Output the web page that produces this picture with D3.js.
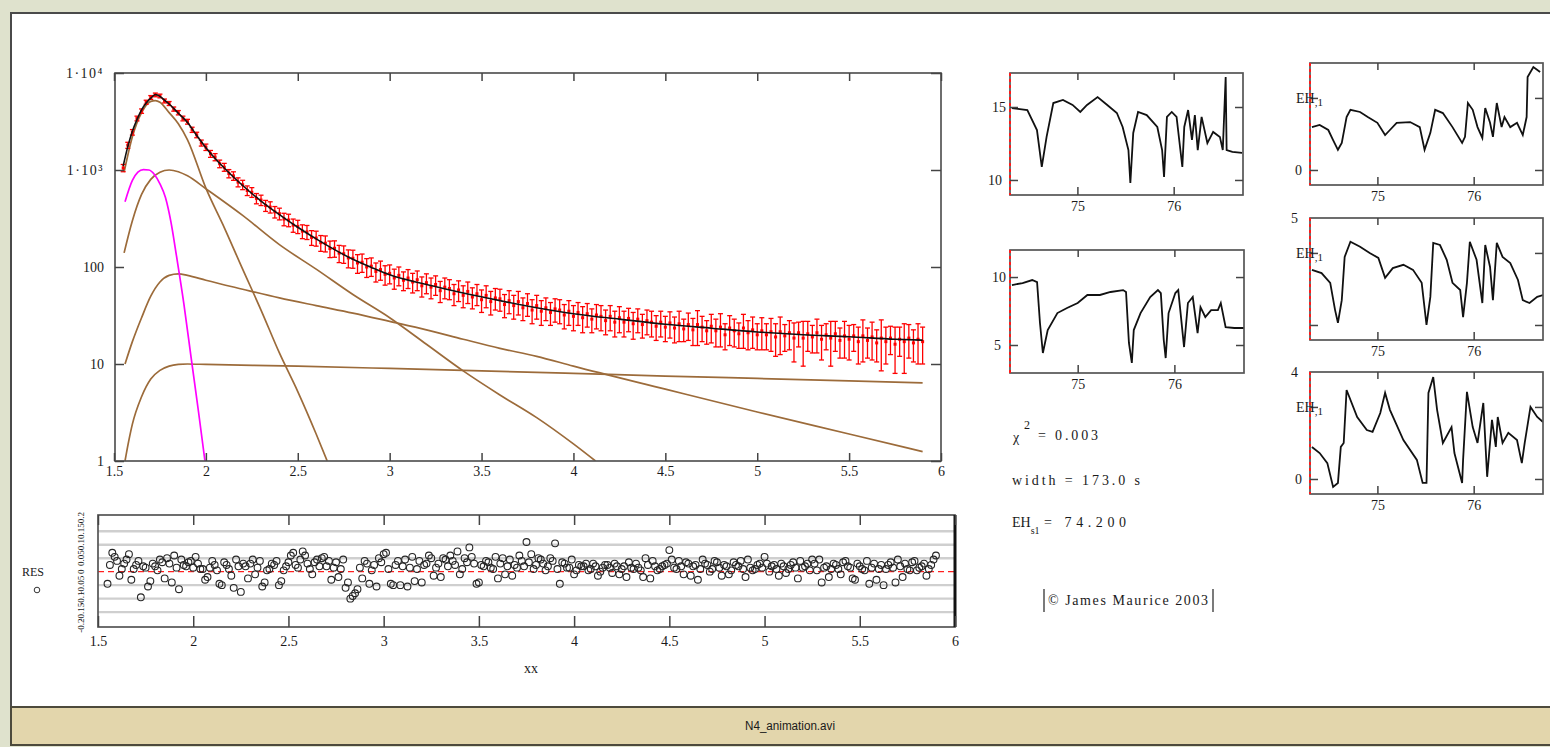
<!DOCTYPE html>
<html><head><meta charset="utf-8">
<script src="https://cdnjs.cloudflare.com/ajax/libs/d3/7.8.5/d3.min.js"></script>
<style>
body{margin:0;background:#dfe2cd;overflow:hidden}
svg{display:block}
text{font-family:"Liberation Serif","DejaVu Serif",serif;fill:#1a1a1a}
</style></head><body><svg id="c" width="1550" height="747"></svg>
<script>
// ---------- main spectrum data ----------
const xStart = 1.55, xStep = 0.025;
const dataY = [1050,1800,2450,3400,4050,5000,5600,5950,5800,5150,4850,4250,3900,3400,3150,2600,2300,1900,1720,1470,
1360,1160,1070,920,870,750,705,615,590,510,490,430,415,370,355,312,305,270,262,234,
230,202,199,178,176,155,156,139,137,124,123,110,112,100,102,90,94,84,86,77,
82,73,77,70,74,64,69,62,66,57,62,60,53,58,51,56,49,53,46,51,
44,48,47,41,45,40,44,38,42,36,40,35,38,34,37,36,32,35,31,34,
30,33,29,32,31,28,31,27,30,27,29.5,26,29,25.5,28,27,24.5,27,24,26.5,
23.5,26,23,25.5,22.5,25.5,24,22,24.5,22,24,20,23.5,22,20.5,23.5,21,22.5,20,22,
20,21.5,19,21.5,19.5,21,18.5,21,18.5,20.5,19,21,18,20,18.5,20.5,17.5,19.5,18,19.5,
17,19.5,17.5,19,16.5,18.5,17,18.5,16,18,17,18.5,16.5,18,17];
const dataErr = [90,130,160,190,210,240,250,260,255,240,230,210,200,190,180,160,150,135,130,120,
115,105,100,90,88,80,78,70,68,62,60,56,55,50,49,46,45,42,41,38,
38,35,35,33,33,30,30,28,28,26,26,24,24,22,22,20,21,19,19,18,
18,16,17,16,17,15,16,15,15,14,15,14,13,14,13,14,12,13,12,13,
12,12,12,11,12,11,12,10,11,10,11,10,10,9,10,10,9,10,9,9,
9,9,8,9,9,8,9,8,9,8,8,8,8,7,8,8,7,8,7,8,
7,9,6,8,7,10,7,6,8,7,9,6,8,7,6,9,7,8,6,8,
6,8,7,9,6,7,8,6,9,7,6,8,7,6,9,7,6,8,7,6,
7,9,6,8,6,10,7,6,8,6,9,7,6,8,7];
const dataX = dataY.map((d,i)=>xStart + i*xStep);

// residuals: two interleaved sets (on the data grid and half a step later)
const resid = [-0.9,1.4,0.8,0.2,0.9,-0.6,0.5,-1.9,0.3,-0.7,0.4,0.9,-0.5,0.6,1.2,-1.3,0.5,0.7,0.3,0.6,
0.2,-0.4,0.8,0.1,-1.0,0.5,-0.3,0.9,-1.5,0.4,0.6,-0.2,0.8,-0.8,0.2,0.5,-1.0,0.1,0.7,1.4,
0.3,1.5,0.6,-0.2,0.9,1.0,0.4,-0.6,0.7,0.2,-1.2,-2.0,-1.6,0.3,0.8,-0.9,0.5,1.0,1.3,0.2,
-1.0,0.8,0.4,-1.1,1.1,0.2,-0.8,0.6,1.0,0.3,-0.4,0.9,1.2,0.5,-0.2,1.0,1.8,0.6,-0.8,0.4,
0.7,0.2,-0.5,1.0,0.4,-0.3,0.3,0.8,2.2,1.3,0.5,0.9,0.1,1.0,2.1,-0.9,0.6,0.3,-0.2,0.5,
0.4,0.1,0.6,-0.3,0.3,0.5,-0.1,0.4,0.2,-0.4,0.3,0.6,0.1,1.0,-0.5,0.4,0.2,0.5,1.6,0.3,
0.8,-0.2,0.6,0.4,-0.6,0.9,0.5,0.2,0.7,-0.3,0.4,0.1,0.5,0.8,-0.4,0.3,0.2,0.6,1.1,0.0,
0.5,-0.3,0.4,0.2,0.7,-0.5,0.3,0.6,0.9,0.1,-0.8,0.4,0.2,0.5,-0.2,0.8,0.3,-0.6,0.4,0.1,
-0.9,0.6,0.2,-1.0,0.5,0.3,0.9,-0.4,0.2,0.7,0.1,0.4,-0.3,0.5,1.2];
const resid2 = [0.5,1.1,-0.3,0.6,1.3,0.2,0.8,0.4,-1.1,0.6,0.1,0.7,1.0,-0.8,0.3,0.9,0.4,0.8,1.1,0.2,
-0.6,0.3,0.5,-0.9,0.7,0.2,-1.2,0.4,0.6,-0.5,0.9,0.3,-1.1,0.1,0.6,0.8,-0.7,0.4,1.2,0.5,
0.9,1.2,0.2,0.7,0.4,1.1,0.8,0.3,-0.4,0.9,-0.8,-1.8,-1.3,-0.5,0.6,0.1,-1.1,0.7,1.4,-0.9,
0.5,-1.0,0.9,0.3,-0.7,0.8,0.5,1.2,-0.3,0.6,1.0,0.4,0.8,1.5,0.2,0.7,1.1,-0.9,0.5,0.8,
0.3,1.1,0.6,-0.2,0.9,0.5,1.2,0.4,0.7,0.2,1.0,0.6,0.4,0.8,0.2,0.7,0.3,0.9,0.1,0.4,
0.6,0.2,0.4,0.0,0.5,0.3,0.6,-0.2,0.4,0.7,0.2,0.3,-0.4,0.5,0.8,0.1,0.4,0.6,0.9,0.2,
0.4,0.7,-0.3,0.5,0.2,0.6,0.0,0.8,0.3,0.5,-0.2,0.7,0.4,0.2,0.9,0.1,0.5,0.3,0.6,0.4,
0.2,0.6,-0.1,0.5,0.3,0.8,0.4,0.1,0.6,0.9,0.3,-0.4,0.6,0.2,0.7,0.4,-0.5,0.6,0.2,0.8,
0.3,-0.6,0.5,0.2,0.7,-0.8,0.4,0.6,0.1,0.8,0.3,0.6,0.2,0.9];
const resid2X = resid2.map((d,i)=>xStart + xStep/2 + i*xStep);

const fitX = [1.55,1.575,1.60,1.625,1.65,1.675,1.70,1.725,1.75,1.775,1.80,1.85,1.90,1.95,2.00,2.10,2.20,2.30,2.40,2.50,2.60,2.70,2.80,2.90,3.00,3.20,3.40,3.60,3.80,4.00,4.25,4.50,4.75,5.00,5.25,5.50,5.75,5.90];
const fitY = [1100,1740,2510,3310,4170,4900,5500,6000,5750,5250,4790,3850,3090,2265,1700,1047,692,479,347,257,195,151,120,99,83,66,54,45,38,33,29,25.7,23.4,21.4,20,19.1,18,17.6];

const magX = [1.56,1.60,1.63,1.66,1.69,1.72,1.75,1.78,1.81,1.84,1.88,1.92,1.96,1.995];
const magY = [470,780,950,1010,1000,900,720,520,290,130,42,11.5,3.2,1];

const br1X = [1.555,1.60,1.65,1.70,1.725,1.75,1.80,1.85,1.90,2.00,2.10,2.20,2.30,2.40,2.50,2.60,2.66];
const br1Y = [950,2200,3900,5100,5200,5000,3900,3000,2050,650,255,95,36,13,5.2,1.9,1];
const br2X = [1.555,1.60,1.65,1.70,1.75,1.80,1.85,1.90,2.00,2.20,2.40,2.60,2.80,3.00,3.20,3.40,3.60,3.80,4.00,4.12];
const br2Y = [140,300,560,800,950,1000,960,870,640,340,170,95,52,30,16,8.5,4.8,2.8,1.5,1];
const br3X = [1.56,1.60,1.65,1.70,1.75,1.80,1.85,1.90,2.00,2.20,2.40,2.60,2.80,3.00,3.20,3.40,3.60,3.80,4.00,4.50,5.00,5.50,5.90];
const br3Y = [10,17,30,50,70,82,85,82,73,59,48,40,33.5,27.5,22.5,18,14.5,12,9.5,5.5,3.2,1.9,1.25];
const br4X = [1.56,1.58,1.60,1.65,1.70,1.75,1.80,1.85,1.90,2.00,2.50,3.00,3.50,4.00,4.50,5.00,5.50,5.90];
const br4Y = [1,1.6,2.4,4.6,7.0,8.6,9.5,9.9,10,9.9,9.5,9.0,8.5,8.0,7.5,7.1,6.7,6.4];

const mainXTicks = [1.5,2,2.5,3,3.5,4,4.5,5,5.5,6];
const mainXLabels = ["1.5","2","2.5","3","3.5","4","4.5","5","5.5","6"];
const mainYTicks = [1,10,100,1000,10000];
const mainYLabels = ["1","10","100","1·10³","1·10⁴"];
const resTicks = [-4,-3,-2,-1,0,1,2,3,4];
const resTickLabels = ["-0.2","-0.15","-0.1","-0.05","0","0.05","0.1","0.15","0.2"];

// ---------- small panels ----------
const pAx=[74.32,74.48,74.58,74.63,74.68,74.75,74.85,74.95,75.03,75.10,75.21,75.31,75.41,75.47,75.53,75.55,75.58,75.63,75.72,75.83,75.88,75.90,75.93,75.98,76.03,76.09,76.11,76.15,76.19,76.22,76.25,76.29,76.35,76.41,76.48,76.51,76.54,76.55,76.61,76.71];
const pAy=[14.93,14.79,13.42,10.89,12.95,15.27,15.48,15.14,14.66,15.14,15.68,15.14,14.59,13.63,12.05,9.79,13.22,14.66,14.45,13.63,12.05,10.21,14.32,14.66,14.32,10.89,13.63,14.79,12.74,14.45,12.05,14.32,12.53,13.29,12.95,12.05,17.05,12.05,11.92,11.85];
const pBx=[74.32,74.43,74.53,74.58,74.61,74.64,74.69,74.79,74.89,75.00,75.10,75.23,75.34,75.47,75.50,75.53,75.56,75.58,75.65,75.75,75.83,75.86,75.89,75.91,75.94,76.01,76.04,76.10,76.14,76.19,76.24,76.27,76.32,76.38,76.45,76.48,76.53,76.62,76.72];
const pBy=[9.41,9.56,9.78,9.63,6.62,4.41,6.10,7.35,7.72,8.09,8.68,8.68,8.90,9.04,8.90,5.15,3.68,6.10,7.35,8.53,9.04,8.82,5.37,4.04,7.35,8.82,9.04,4.85,8.09,8.53,5.88,7.79,7.06,7.57,7.57,8.09,6.32,6.25,6.25];
const pCx=[74.32,74.40,74.49,74.54,74.59,74.63,74.68,74.72,74.82,74.90,75.00,75.08,75.13,75.20,75.34,75.44,75.49,75.55,75.60,75.68,75.78,75.88,75.91,75.94,75.99,76.04,76.09,76.12,76.17,76.20,76.24,76.29,76.32,76.38,76.45,76.51,76.55,76.56,76.62,76.69];
const pCy=[1.19,1.25,1.11,0.83,0.56,0.75,1.47,1.67,1.61,1.47,1.31,0.97,1.11,1.31,1.33,1.19,0.56,1.03,1.67,1.58,1.19,0.75,0.92,1.86,1.67,1.19,0.89,1.72,1.31,0.92,1.86,1.19,1.47,1.19,1.31,0.97,1.47,2.58,2.86,2.72];
const pDx=[74.32,74.42,74.51,74.56,74.59,74.63,74.66,74.72,74.82,74.92,75.01,75.08,75.16,75.27,75.37,75.46,75.51,75.55,75.58,75.65,75.72,75.78,75.86,75.89,75.93,75.96,76.03,76.09,76.12,76.17,76.20,76.24,76.30,76.38,76.46,76.51,76.58,76.66,76.72];
const pDy=[1.53,1.44,1.17,0.42,0.06,0.69,1.89,2.31,2.17,2.00,1.86,1.31,1.58,1.67,1.53,1.17,0.00,0.78,2.28,2.22,1.81,1.17,0.97,0.22,1.17,2.31,1.81,0.61,2.22,1.61,0.69,2.28,1.89,1.72,1.25,0.69,0.61,0.78,0.83];
const pEx=[74.32,74.40,74.48,74.54,74.59,74.62,74.65,74.68,74.79,74.89,74.95,75.03,75.08,75.13,75.27,75.41,75.47,75.51,75.53,75.58,75.62,75.68,75.77,75.80,75.88,75.89,75.93,75.99,76.04,76.10,76.14,76.19,76.23,76.25,76.30,76.36,76.45,76.50,76.53,76.59,76.66,76.72];
const pEy=[0.89,0.72,0.44,-0.22,-0.11,0.89,1.00,2.47,1.72,1.36,1.31,1.83,2.39,1.92,1.08,0.53,-0.11,-0.11,2.39,2.83,1.92,1.00,1.44,0.72,-0.11,0.53,2.42,1.44,1.00,2.11,0.06,1.64,0.89,1.72,1.00,1.28,1.08,0.44,1.00,2.00,1.72,1.58];
const panelXTicks = [75,76];
const panelXLabels = ["75","76"];

// ---------- drawing ----------
const svg = d3.select("#c");
svg.append("rect").attr("width",1550).attr("height",747).attr("fill","#dfe2cd");
svg.append("rect").attr("x",11).attr("y",13).attr("width",1545).attr("height",694)
  .attr("fill","#fff").attr("stroke","#4a4a4a").attr("stroke-width",2);
svg.append("rect").attr("x",11).attr("y",707).attr("width",1545).attr("height",38)
  .attr("fill","#e3d6ac").attr("stroke","#4d4a3c").attr("stroke-width",2);
svg.append("text").attr("x",790).attr("y",730).attr("text-anchor","middle")
  .style("font-family","'Liberation Sans',Arial,sans-serif").attr("font-size",12).attr("fill","#222")
  .attr("textLength",90).attr("lengthAdjust","spacingAndGlyphs")
  .text("N4_animation.avi");

function styleAxis(g, size){
  g.select(".domain").remove();
  g.selectAll("line").attr("stroke","#444").attr("stroke-width",1.5);
  g.selectAll("text").attr("font-family",null).style("font-family","'Liberation Serif',serif")
    .attr("font-size",size).attr("fill","#1a1a1a");
  g.attr("font-family",null);
}

// main plot
const xM = d3.scaleLinear().domain([1.5,6]).range([114,941]);
const yM = d3.scaleLog().domain([1,1e4]).range([461,73]);
svg.append("clipPath").attr("id","clipM").append("rect").attr("x",115).attr("y",73).attr("width",826).attr("height",388);
const gM = svg.append("g");
const plotM = gM.append("g").attr("clip-path","url(#clipM)");
const lineXY = (xs,sx,sy)=> d3.line().x((d,i)=>sx(xs[i])).y(d=>sy(d)).curve(d3.curveMonotoneX);

[[br1X,br1Y],[br2X,br2Y],[br3X,br3Y],[br4X,br4Y]].forEach(([xs,ys])=>{
  plotM.append("path").attr("d",lineXY(xs,xM,yM)(ys)).attr("fill","none")
    .attr("stroke","#9c6b3a").attr("stroke-width",1.7);
});
plotM.append("path").attr("d",lineXY(magX,xM,yM)(magY)).attr("fill","none")
  .attr("stroke","#ff00ff").attr("stroke-width",1.7);

const eb = plotM.append("g").attr("stroke","#ff0000").attr("stroke-width",1.3);
dataY.forEach((v,i)=>{
  const x = xM(dataX[i]);
  const hi = yM(v + dataErr[i]), lo = yM(Math.max(v - dataErr[i], 0.8));
  eb.append("line").attr("x1",x).attr("x2",x).attr("y1",hi).attr("y2",lo);
  eb.append("line").attr("x1",x-2.5).attr("x2",x+2.5).attr("y1",hi).attr("y2",hi);
  eb.append("line").attr("x1",x-2.5).attr("x2",x+2.5).attr("y1",lo).attr("y2",lo);
  eb.append("rect").attr("x",x-1.5).attr("y",yM(v)-1.5).attr("width",3).attr("height",3).attr("fill","#ff0000").attr("stroke","none");
});
plotM.append("path").attr("d",lineXY(fitX,xM,yM)(fitY)).attr("fill","none")
  .attr("stroke","#111").attr("stroke-width",1.6);

gM.append("rect").attr("x",115).attr("y",73).attr("width",826).attr("height",388)
  .attr("fill","none").attr("stroke","#555").attr("stroke-width",1.7);
const axB = gM.append("g").attr("transform","translate(0,461)")
  .call(d3.axisBottom(xM).tickValues(mainXTicks).tickSize(-8).tickSizeOuter(0).tickPadding(5).tickFormat((d,i)=>mainXLabels[i]));
styleAxis(axB,14);
const axT = gM.append("g").attr("transform","translate(0,73)")
  .call(d3.axisTop(xM).tickValues(mainXTicks).tickSize(-8).tickSizeOuter(0).tickFormat(""));
styleAxis(axT,14);
const axL = gM.append("g").attr("transform","translate(115,0)")
  .call(d3.axisLeft(yM).tickValues(mainYTicks).tickSize(-9).tickSizeOuter(0).tickPadding(11).tickFormat((d,i)=>mainYLabels[i]));
styleAxis(axL,14);
axL.selectAll("text").attr("letter-spacing",d=>d>=1000?"1.5px":null);
const axR = gM.append("g").attr("transform","translate(941,0)")
  .call(d3.axisRight(yM).tickValues(mainYTicks).tickSize(-10).tickSizeOuter(0).tickFormat(""));
styleAxis(axR,14);

// residual plot
const xR = d3.scaleLinear().domain([1.5,6]).range([98,955]);
const yR = d3.scaleLinear().domain([-4.1,4.2]).range([627,515]);
const gR = svg.append("g");
gR.selectAll(".grid").data(resTicks.filter(d=>d!==0 && Math.abs(d)<4)).enter().append("line")
  .attr("x1",98).attr("x2",955).attr("y1",d=>yR(d)).attr("y2",d=>yR(d))
  .attr("stroke","#cfcfcf").attr("stroke-width",2.4);
gR.append("line").attr("x1",98).attr("x2",955).attr("y1",yR(0)).attr("y2",yR(0))
  .attr("stroke","#ff2020").attr("stroke-width",1.2).attr("stroke-dasharray","6,4");
const cg = gR.append("g").attr("fill","none").attr("stroke","#262626").attr("stroke-width",1.1);
cg.selectAll("circle.a").data(resid).enter().append("circle")
  .attr("cx",(d,i)=>xR(dataX[i])).attr("cy",d=>yR(d)).attr("r",3.4);
cg.selectAll("circle.b").data(resid2).enter().append("circle")
  .attr("cx",(d,i)=>xR(resid2X[i])).attr("cy",d=>yR(d)).attr("r",3.4);
gR.append("rect").attr("x",98).attr("y",515).attr("width",857).attr("height",112)
  .attr("fill","none").attr("stroke","#555").attr("stroke-width",1.7);
gR.append("line").attr("x1",955).attr("x2",955).attr("y1",515).attr("y2",627).attr("stroke","#111").attr("stroke-width",3);
const rB = gR.append("g").attr("transform","translate(0,627)")
  .call(d3.axisBottom(xR).tickValues(mainXTicks).tickSize(-11).tickSizeOuter(0).tickPadding(9).tickFormat((d,i)=>mainXLabels[i]));
styleAxis(rB,14);
const rT = gR.append("g").attr("transform","translate(0,515)")
  .call(d3.axisTop(xR).tickValues(mainXTicks).tickSize(-10).tickSizeOuter(0).tickFormat(""));
styleAxis(rT,14);
gR.selectAll(".rlab").data(resTicks).enter().append("text")
  .attr("transform",d=>`translate(84,${yR(d)}) rotate(-90)`).attr("text-anchor","middle")
  .attr("font-size",9).text((d,i)=>resTickLabels[i]);
gR.append("text").attr("x",22).attr("y",576).attr("font-size",12).text("RES");
gR.append("circle").attr("cx",37).attr("cy",590).attr("r",2.8).attr("fill","none").attr("stroke","#333");
gR.append("text").attr("x",531).attr("y",673).attr("text-anchor","middle").attr("font-size",14).text("xx");

// small panels
function panel(p){
  const x = d3.scaleLinear().domain([74.3,76.72]).range([p.x0,p.x1]);
  const y = d3.scaleLinear().domain(p.yDom).range([p.y1,p.y0]);
  const g = svg.append("g");
  const cid = "clip"+p.id;
  g.append("clipPath").attr("id",cid).append("rect").attr("x",p.x0).attr("y",p.y0-1).attr("width",p.x1-p.x0).attr("height",p.y1-p.y0+2);
  g.append("path").attr("clip-path",`url(#${cid})`)
    .attr("d",d3.line().x((d,i)=>x(p.xs[i])).y(d=>y(d))(p.ys))
    .attr("fill","none").attr("stroke","#111").attr("stroke-width",1.8);
  g.append("rect").attr("x",p.x0).attr("y",p.y0).attr("width",p.x1-p.x0).attr("height",p.y1-p.y0)
    .attr("fill","none").attr("stroke","#555").attr("stroke-width",1.7);
  const b = g.append("g").attr("transform",`translate(0,${p.y1})`)
    .call(d3.axisBottom(x).tickValues(panelXTicks).tickSize(-8).tickSizeOuter(0).tickPadding(6).tickFormat((d,i)=>panelXLabels[i]));
  styleAxis(b,14);
  const t = g.append("g").attr("transform",`translate(0,${p.y0})`)
    .call(d3.axisTop(x).tickValues(panelXTicks).tickSize(-7).tickSizeOuter(0).tickFormat(""));
  styleAxis(t,14);
  const l = g.append("g").attr("transform",`translate(${p.x0},0)`)
    .call(d3.axisLeft(y).tickValues(p.yTicks).tickSize(-8).tickSizeOuter(0).tickFormat(""));
  styleAxis(l,14);
  const r = g.append("g").attr("transform",`translate(${p.x1},0)`)
    .call(d3.axisRight(y).tickValues(p.yTicks).tickSize(-8).tickSizeOuter(0).tickFormat(""));
  styleAxis(r,14);
  g.append("line").attr("x1",p.x0).attr("x2",p.x0).attr("y1",p.y0).attr("y2",p.y1)
    .attr("stroke","#ff1a1a").attr("stroke-width",2).attr("stroke-dasharray","3,3");
  p.labels.forEach(lb=>{
    const tx = g.append("text").attr("x",lb.x).attr("y",y(lb.v)+5).attr("font-size",14)
      .attr("text-anchor",lb.anchor||"end");
    tx.append("tspan").text(lb.t);
    if(lb.sub) tx.append("tspan").attr("font-size",11).attr("dy",3).text(lb.sub);
  });
}
panel({id:"A",x0:1010,x1:1243,y0:73,y1:195,yDom:[8.97,17.33],yTicks:[10,15],xs:pAx,ys:pAy,
  labels:[{v:10,t:"10",x:1002},{v:15,t:"15",x:1006}]});
panel({id:"B",x0:1010,x1:1244,y0:250,y1:373,yDom:[2.94,11.99],yTicks:[5,10],xs:pBx,ys:pBy,
  labels:[{v:5,t:"5",x:1001},{v:10,t:"10",x:1006}]});
panel({id:"C",x0:1310,x1:1543,y0:63,y1:185,yDom:[-0.417,2.97],yTicks:[0,2],xs:pCx,ys:pCy,
  labels:[{v:0,t:"0",x:1302},{v:2,t:"EH",sub:",1",x:1296,anchor:"start"}]});
panel({id:"D",x0:1310,x1:1543,y0:218,y1:340,yDom:[-0.417,2.97],yTicks:[0,2],xs:pDx,ys:pDy,
  labels:[{v:2,t:"EH",sub:",1",x:1296,anchor:"start"},{v:2.97,t:"5",x:1298}]});
panel({id:"E",x0:1310,x1:1543,y0:372,y1:494,yDom:[-0.417,2.97],yTicks:[0,2],xs:pEx,ys:pEy,
  labels:[{v:0,t:"0",x:1302},{v:2,t:"EH",sub:",1",x:1296,anchor:"start"},{v:2.97,t:"4",x:1298}]});

// fit result text
const tb = svg.append("g").attr("font-size",14);
tb.append("text").attr("x",1013).attr("y",442).text("χ");
tb.append("text").attr("x",1024).attr("y",429).attr("font-size",12).text("2");
tb.append("text").attr("x",1038).attr("y",440).attr("textLength",60).attr("lengthAdjust","spacing").text("= 0.003");
tb.append("text").attr("x",1012).attr("y",485).attr("textLength",128).attr("lengthAdjust","spacing").text("width = 173.0  s");
const eh = tb.append("text").attr("x",1012).attr("y",527);
eh.append("tspan").text("EH");
eh.append("tspan").attr("font-size",10).attr("dy",7).text("s1");
tb.append("text").attr("x",1044).attr("y",527).attr("textLength",82).attr("lengthAdjust","spacing").text("= 74.200");
tb.append("text").attr("x",1048).attr("y",605).attr("textLength",160).attr("lengthAdjust","spacing").text("© James Maurice 2003");
tb.append("line").attr("x1",1044).attr("x2",1044).attr("y1",589).attr("y2",612).attr("stroke","#333").attr("stroke-width",1.3);
tb.append("line").attr("x1",1213).attr("x2",1213).attr("y1",589).attr("y2",612).attr("stroke","#333").attr("stroke-width",1.3);
</script></body></html>
